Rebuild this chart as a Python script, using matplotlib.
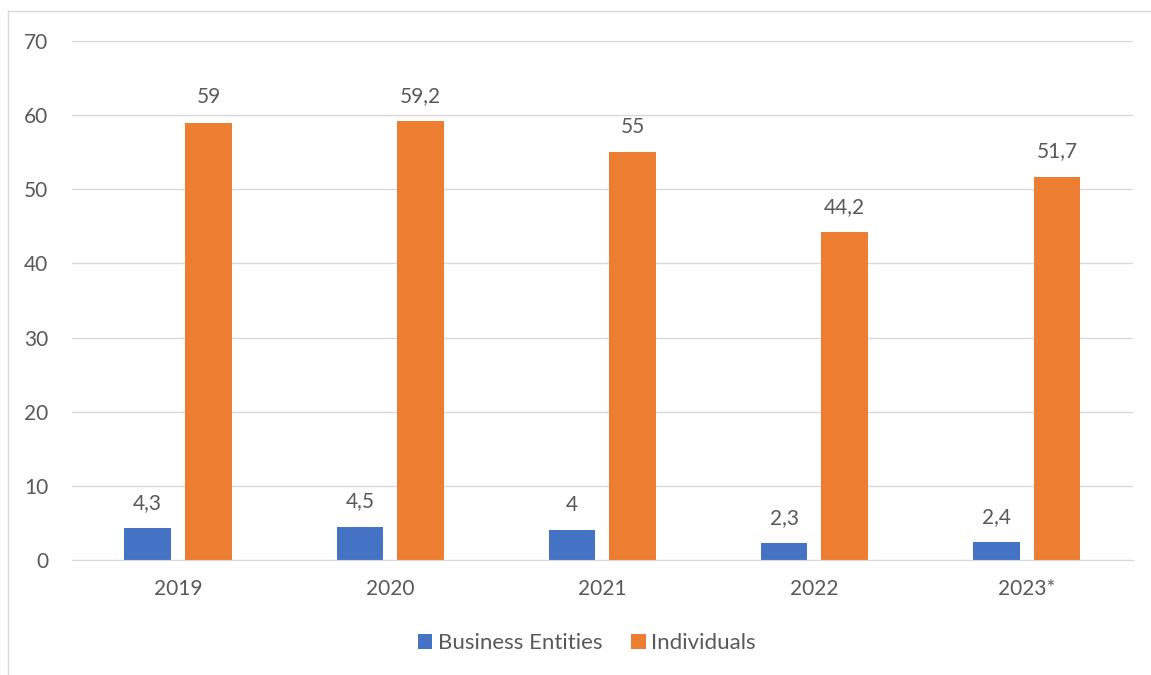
import numpy as np
import matplotlib.pyplot as plt
from matplotlib.lines import Line2D

years = ["2019", "2020", "2021", "2022", "2023*"]
business = [4.3, 4.5, 4.0, 2.3, 2.4]
individuals = [59.0, 59.2, 55.0, 44.2, 51.7]
business_labels = ["4,3", "4,5", "4", "2,3", "2,4"]
individual_labels = ["59", "59,2", "55", "44,2", "51,7"]

blue = "#4472C4"
orange = "#ED7D31"
text_color = "#595959"
grid_color = "#D9D9D9"
fs = 15

plt.rcParams['font.family'] = ['Lato', 'DejaVu Sans']

fig = plt.figure(figsize=(11.51, 6.75), dpi=100)
ax = fig.add_axes([0.0626, 0.1704, 0.9214, 0.7689])

x = np.arange(len(years))
w = 0.22
off = 0.143
b1 = ax.bar(x - off, business, w, color=blue, label="Business Entities")
b2 = ax.bar(x + off, individuals, w, color=orange, label="Individuals")

# value labels above the bars
for bars, labels in [(b1, business_labels), (b2, individual_labels)]:
    for rect, lab in zip(bars, labels):
        ax.annotate(lab, (rect.get_x() + rect.get_width() / 2, rect.get_height()),
                    xytext=(0, 11), textcoords="offset points", ha="center", va="bottom",
                    fontsize=fs, color=text_color)

ax.set_xlim(-0.5, len(years) - 0.5)
ax.set_ylim(0, 70)
ax.set_yticks(range(0, 71, 10))
ax.set_xticks(x)
ax.set_xticklabels(years)
ax.tick_params(axis="both", length=0, labelsize=fs, labelcolor=text_color)
ax.tick_params(axis="y", pad=17)
ax.tick_params(axis="x", pad=14)
ax.grid(axis="y", color=grid_color, linewidth=1)
ax.set_axisbelow(True)
for s in ["top", "right", "left"]:
    ax.spines[s].set_visible(False)
ax.spines["bottom"].set_color(grid_color)

leg = fig.legend(handles=[b1, b2], loc="center", bbox_to_anchor=(0.51, 0.047),
                 ncol=2, frameon=False, fontsize=16, handlelength=0.65, handleheight=0.65,
                 handletextpad=0.25, columnspacing=1.3)
for t in leg.get_texts():
    t.set_color(text_color)

# chart area border (partly cropped in the source image)
fig.add_artist(Line2D([8 / 1151, 8 / 1151], [0, 1 - 11 / 675], transform=fig.transFigure,
                      color=grid_color, linewidth=1))
fig.add_artist(Line2D([8 / 1151, 1], [1 - 11 / 675, 1 - 11 / 675], transform=fig.transFigure,
                      color=grid_color, linewidth=1))

fig.savefig("out.png", dpi=100)
